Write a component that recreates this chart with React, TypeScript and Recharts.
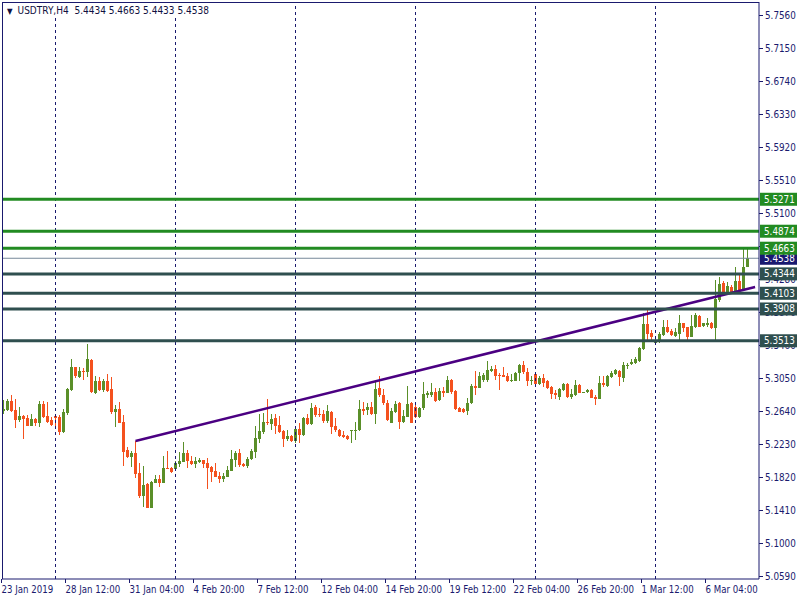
import { ComposedChart, Bar, XAxis, YAxis, ReferenceLine } from "recharts";

// USDTRY H4 candles (index 1 = 23 Jan 20:00)
const opens = [
  5.2644, 5.2653, 5.2764, 5.2653, 5.2528, 5.2578, 5.2549, 5.2458, 5.2541, 5.2495,
  5.2727, 5.2574, 5.2533, 5.2578, 5.2561, 5.2384, 5.2619, 5.2901, 5.3187, 5.3067,
  5.3141, 5.3120, 5.3274, 5.2868, 5.3013, 5.2901, 5.3013, 5.2909, 5.2632, 5.2665,
  5.2504, 5.2156, 5.2073, 5.2114, 5.1870, 5.1589, 5.1733, 5.1439, 5.1750, 5.1796,
  5.1750, 5.1936, 5.1936, 5.1916, 5.1982, 5.2011, 5.2123, 5.2023, 5.1986, 5.2003,
  5.2032, 5.1990, 5.1949, 5.1895, 5.1837, 5.1800, 5.1824, 5.1899, 5.2032, 5.2118,
  5.1982, 5.1957, 5.2040, 5.2135, 5.2297, 5.2384, 5.2504, 5.2479, 5.2558, 5.2467,
  5.2392, 5.2293, 5.2330, 5.2268, 5.2417, 5.2342, 5.2554, 5.2479, 5.2686, 5.2603,
  5.2603, 5.2516, 5.2632, 5.2454, 5.2405, 5.2342, 5.2330, 5.2392, 5.2396, 5.2405,
  5.2665, 5.2653, 5.2690, 5.2603, 5.2922, 5.2843, 5.2744, 5.2496, 5.2632, 5.2736,
  5.2504, 5.2570, 5.2736, 5.2694, 5.2570, 5.2674, 5.2839, 5.2839, 5.2881, 5.2777,
  5.2889, 5.2868, 5.3026, 5.2893, 5.2674, 5.2661, 5.2645, 5.2736, 5.2955, 5.2930,
  5.3026, 5.3026, 5.3137, 5.3162, 5.3088, 5.3088, 5.3079, 5.3013, 5.3017, 5.3108,
  5.3212, 5.3121, 5.3013, 5.3100, 5.2976, 5.3046, 5.3013, 5.2934, 5.2868, 5.2818,
  5.2901, 5.2976, 5.2814, 5.2843, 5.2963, 5.2872, 5.2876, 5.2901, 5.2814, 5.2789,
  5.2992, 5.2955, 5.3058, 5.3100, 5.3141, 5.3050, 5.3204, 5.3224, 5.3232, 5.3265,
  5.3410, 5.3721, 5.3605, 5.3489, 5.3501, 5.3584, 5.3687, 5.3638, 5.3576, 5.3596,
  5.3729, 5.3679, 5.3563, 5.3679, 5.3824, 5.3696, 5.3708, 5.3729, 5.3675, 5.4025,
  5.4230, 5.4120, 5.4184, 5.4112, 5.4259, 5.4151, 5.4434,
];
const highs = [
  5.2777, 5.2789, 5.2839, 5.2785, 5.2686, 5.2590, 5.2590, 5.2603, 5.2549, 5.2764,
  5.2764, 5.2756, 5.2561, 5.2599, 5.2586, 5.2661, 5.2930, 5.3286, 5.3187, 5.3183,
  5.3174, 5.3472, 5.3282, 5.3079, 5.3067, 5.3038, 5.3096, 5.3058, 5.2715, 5.2752,
  5.2590, 5.2197, 5.2143, 5.2268, 5.1990, 5.1957, 5.1742, 5.1771, 5.1845, 5.1845,
  5.2081, 5.2143, 5.1949, 5.2023, 5.2127, 5.2251, 5.2152, 5.2081, 5.2065, 5.2052,
  5.2032, 5.2061, 5.1957, 5.1998, 5.1887, 5.1866, 5.1961, 5.2156, 5.2143, 5.2172,
  5.1998, 5.2065, 5.2168, 5.2454, 5.2603, 5.2612, 5.2790, 5.2599, 5.2603, 5.2578,
  5.2405, 5.2405, 5.2342, 5.2429, 5.2487, 5.2570, 5.2603, 5.2744, 5.2711, 5.2674,
  5.2653, 5.2715, 5.2645, 5.2550, 5.2417, 5.2392, 5.2342, 5.2405, 5.2508, 5.2777,
  5.2752, 5.2744, 5.2752, 5.3005, 5.3075, 5.2910, 5.2777, 5.2674, 5.2769, 5.2757,
  5.2653, 5.2951, 5.2748, 5.2757, 5.2694, 5.2997, 5.2893, 5.2984, 5.2922, 5.2922,
  5.2943, 5.3079, 5.3038, 5.2901, 5.2694, 5.2674, 5.2798, 5.2976, 5.3142, 5.3129,
  5.3108, 5.3262, 5.3204, 5.3212, 5.3108, 5.3191, 5.3108, 5.3100, 5.3125, 5.3220,
  5.3261, 5.3170, 5.3075, 5.3108, 5.3079, 5.3096, 5.3025, 5.2951, 5.2901, 5.2922,
  5.2984, 5.2984, 5.2909, 5.3025, 5.2976, 5.2880, 5.2914, 5.2909, 5.2839, 5.3075,
  5.3075, 5.3087, 5.3141, 5.3162, 5.3150, 5.3245, 5.3241, 5.3282, 5.3306, 5.3439,
  5.3853, 5.3903, 5.3646, 5.3543, 5.3625, 5.3770, 5.3770, 5.3654, 5.3667, 5.3832,
  5.3737, 5.3687, 5.3832, 5.3853, 5.3832, 5.3737, 5.3791, 5.3750, 5.4268, 5.4300,
  5.4250, 5.4240, 5.4205, 5.4425, 5.4350, 5.4648, 5.4663,
];
const lows = [
  5.2603, 5.2640, 5.2632, 5.2425, 5.2508, 5.2297, 5.2454, 5.2454, 5.2454, 5.2446,
  5.2549, 5.2495, 5.2454, 5.2412, 5.2342, 5.2371, 5.2590, 5.2893, 5.3046, 5.3046,
  5.3025, 5.3067, 5.2860, 5.2855, 5.2893, 5.2880, 5.2880, 5.2603, 5.2437, 5.2487,
  5.1957, 5.2052, 5.1949, 5.1812, 5.1555, 5.1452, 5.1431, 5.1435, 5.1742, 5.1692,
  5.1742, 5.1916, 5.1874, 5.1907, 5.1949, 5.2003, 5.1928, 5.1970, 5.1936, 5.1990,
  5.1928, 5.1667, 5.1762, 5.1816, 5.1750, 5.1762, 5.1816, 5.1895, 5.1941, 5.1949,
  5.1941, 5.1936, 5.2032, 5.2061, 5.2239, 5.2355, 5.2467, 5.2405, 5.2355, 5.2371,
  5.2189, 5.2272, 5.2260, 5.2247, 5.2239, 5.2330, 5.2467, 5.2467, 5.2570, 5.2570,
  5.2496, 5.2487, 5.2355, 5.2384, 5.2322, 5.2309, 5.2280, 5.2239, 5.2280, 5.2396,
  5.2591, 5.2591, 5.2591, 5.2479, 5.2819, 5.2715, 5.2516, 5.2487, 5.2612, 5.2417,
  5.2487, 5.2562, 5.2487, 5.2558, 5.2558, 5.2653, 5.2798, 5.2819, 5.2757, 5.2765,
  5.2819, 5.2860, 5.2852, 5.2653, 5.2624, 5.2620, 5.2591, 5.2723, 5.2839, 5.2922,
  5.3005, 5.3005, 5.3129, 5.3026, 5.2901, 5.3059, 5.3005, 5.2996, 5.3009, 5.3017,
  5.3100, 5.2955, 5.2963, 5.2951, 5.2963, 5.2934, 5.2914, 5.2785, 5.2785, 5.2777,
  5.2893, 5.2806, 5.2785, 5.2831, 5.2860, 5.2868, 5.2868, 5.2798, 5.2715, 5.2785,
  5.2943, 5.2943, 5.3046, 5.3087, 5.2951, 5.3005, 5.3158, 5.3211, 5.3224, 5.3253,
  5.3398, 5.3501, 5.3501, 5.3480, 5.3489, 5.3571, 5.3605, 5.3571, 5.3563, 5.3514,
  5.3625, 5.3501, 5.3555, 5.3667, 5.3679, 5.3687, 5.3687, 5.3654, 5.3501, 5.4000,
  5.4105, 5.4105, 5.4095, 5.4102, 5.4122, 5.4143, 5.4433,
];
const closes = [
  5.2661, 5.2764, 5.2644, 5.2528, 5.2578, 5.2545, 5.2458, 5.2541, 5.2495, 5.2727,
  5.2570, 5.2508, 5.2470, 5.2557, 5.2384, 5.2628, 5.2913, 5.3187, 5.3075, 5.3137,
  5.3129, 5.3286, 5.2872, 5.3013, 5.2901, 5.3017, 5.2893, 5.2632, 5.2665, 5.2495,
  5.2135, 5.2065, 5.2114, 5.1858, 5.1584, 5.1721, 5.1439, 5.1758, 5.1796, 5.1750,
  5.1932, 5.1920, 5.1887, 5.1994, 5.2019, 5.2118, 5.2023, 5.1986, 5.2019, 5.2032,
  5.1986, 5.1936, 5.1887, 5.1824, 5.1800, 5.1833, 5.1907, 5.2044, 5.2118, 5.1974,
  5.1957, 5.2044, 5.2147, 5.2301, 5.2396, 5.2504, 5.2487, 5.2537, 5.2454, 5.2384,
  5.2293, 5.2330, 5.2268, 5.2417, 5.2342, 5.2554, 5.2479, 5.2678, 5.2591, 5.2591,
  5.2516, 5.2636, 5.2446, 5.2405, 5.2334, 5.2322, 5.2293, 5.2400, 5.2405, 5.2665,
  5.2645, 5.2690, 5.2603, 5.2914, 5.2835, 5.2736, 5.2529, 5.2645, 5.2723, 5.2504,
  5.2578, 5.2732, 5.2496, 5.2570, 5.2678, 5.2856, 5.2868, 5.2881, 5.2765, 5.2893,
  5.2868, 5.3026, 5.2881, 5.2665, 5.2632, 5.2632, 5.2736, 5.2955, 5.2930, 5.3079,
  5.3088, 5.3150, 5.3162, 5.3079, 5.3079, 5.3067, 5.3017, 5.3025, 5.3116, 5.3212,
  5.3121, 5.3017, 5.3021, 5.2976, 5.3046, 5.2992, 5.2930, 5.2847, 5.2839, 5.2914,
  5.2976, 5.2814, 5.2851, 5.2963, 5.2868, 5.2876, 5.2901, 5.2806, 5.2789, 5.2992,
  5.2959, 5.3075, 5.3116, 5.3150, 5.3058, 5.3212, 5.3212, 5.3253, 5.3282, 5.3418,
  5.3721, 5.3592, 5.3563, 5.3522, 5.3596, 5.3687, 5.3625, 5.3584, 5.3625, 5.3737,
  5.3667, 5.3563, 5.3696, 5.3832, 5.3687, 5.3729, 5.3729, 5.3667, 5.4032, 5.4222,
  5.4115, 5.4190, 5.4122, 5.4259, 5.4143, 5.4433, 5.4538,
];

// bar indices that carry a time label, and their labels
const timeTicks = [1, 17, 33, 49, 65, 81, 97, 113, 129, 145, 161, 177];
const timeLabels = [
  "23 Jan 2019", "28 Jan 12:00", "31 Jan 04:00", "4 Feb 20:00", "7 Feb 12:00", "12 Feb 04:00",
  "14 Feb 20:00", "19 Feb 12:00", "22 Feb 04:00", "26 Feb 20:00", "1 Mar 12:00", "6 Mar 04:00",
];
// weekly grid (Monday 00:00 bars)
const weekGrid = [14, 44, 74, 104, 134, 164];

const priceTicks = [
  5.059, 5.1, 5.141, 5.182, 5.223, 5.264, 5.305, 5.346, 5.387, 5.428,
  5.469, 5.51, 5.551, 5.592, 5.633, 5.674, 5.715, 5.756,
];
const resistanceLevels = [5.5271, 5.4874, 5.4663];
const supportLevels = [5.4344, 5.4103, 5.3908, 5.3513];
const bidPrice = 5.4538;
const trendStart = { x: 34, y: 5.2268 };
const trendEnd = { x: 188.9, y: 5.4181 };

const data = opens.map((o, i) => ({
  idx: i + 1,
  open: o,
  high: highs[i],
  low: lows[i],
  close: closes[i],
}));

const NAVY = "#1a1a6e";
const BULL = "#5a8f29";
const BEAR = "#f4511e";
const LEVEL_GREEN = "#228b22";
const LEVEL_SLATE = "#2f4f4f";
const FONT = "Tahoma, 'DejaVu Sans Condensed', 'Liberation Sans', sans-serif";

const Candle = (props: any) => {
  const { x, y, width, height, payload } = props;
  const { open, close, high, low } = payload;
  const top = Math.min(y, y + height);
  const h = Math.abs(height);
  const span = high - low;
  const k = span > 0 ? h / span : 0;
  const yo = top + (high - open) * k;
  const yc = top + (high - close) * k;
  const color = close >= open ? BULL : BEAR;
  const cx = Math.floor(x + width / 2);
  const bTop = Math.round(Math.min(yo, yc));
  const bBot = Math.round(Math.max(yo, yc));
  const wTop = Math.round(top);
  const wBot = Math.round(top + h);
  return (
    <g>
      <rect x={cx} y={wTop} width={1} height={Math.max(1, wBot - wTop)} fill={color} />
      <rect x={cx - 1} y={bTop} width={3} height={Math.max(1, bBot - bTop)} fill={color} />
    </g>
  );
};

const TimeTick = ({ x, y, payload }: any) => {
  const i = timeTicks.indexOf(payload.value);
  const px = Math.floor(x) - 1.5;
  return (
    <g>
      <line x1={px} x2={px} y1={y} y2={y + 4} stroke={NAVY} />
      <text x={px} y={y + 14} fontSize={9.6} fontFamily={FONT} fill={NAVY} textAnchor="start">
        {timeLabels[i]}
      </text>
    </g>
  );
};

// price scale label, drawn at the right end of an invisible reference line
const PriceTick = ({ viewBox, value }: any) => {
  const right = viewBox.x + viewBox.width;
  const yy = Math.round(viewBox.y) + 0.5;
  return (
    <g>
      <line x1={right} x2={right + 4} y1={yy} y2={yy} stroke={NAVY} />
      <text x={right + 6} y={yy + 3.5} fontSize={9.8} fontFamily={FONT} fill={NAVY}>
        {value.toFixed(4)}
      </text>
    </g>
  );
};

const LevelTag = ({ viewBox, fill, value }: any) => {
  const right = viewBox.x + viewBox.width;
  const yy = viewBox.y;
  return (
    <g>
      <rect x={right + 1} y={yy - 6.5} width={37} height={13} fill={fill} />
      <text x={right + 5} y={yy + 3.5} fontSize={9.8} fontFamily={FONT} fill="#ffffff">
        {value.toFixed(4)}
      </text>
    </g>
  );
};

export default function App() {
  return (
    <div style={{ position: "relative", width: 800, height: 600, background: "#fff" }}>
      <style>{`body{margin:0}`}</style>
      <ComposedChart
        width={800}
        height={600}
        data={data}
        margin={{ top: 2, right: 0, bottom: 0, left: 2 }}
      >
        <XAxis
          dataKey="idx"
          type="number"
          domain={[0.625, 189.875]}
          allowDataOverflow
          ticks={timeTicks}
          interval={0}
          height={21}
          tickSize={0}
          tickMargin={0}
          tickLine={false}
          axisLine={{ stroke: NAVY }}
          tick={<TimeTick />}
        />
        <YAxis
          orientation="right"
          type="number"
          domain={[5.0553, 5.7722]}
          allowDataOverflow
          ticks={priceTicks}
          width={41}
          tick={false}
          tickLine={false}
          axisLine={{ stroke: NAVY }}
        />
        {weekGrid.map((g) => (
          <ReferenceLine key={g} x={g} stroke={NAVY} strokeDasharray="3 3" />
        ))}
        {priceTicks.map((t) => (
          <ReferenceLine key={`t${t}`} y={t} stroke="none" label={<PriceTick value={t} />} />
        ))}
        <Bar
          dataKey={(d: any) => [d.low, d.high]}
          barSize={4}
          shape={<Candle />}
          isAnimationActive={false}
        />
        <ReferenceLine
          segment={[trendStart, trendEnd]}
          stroke="#4b0082"
          strokeWidth={2.5}
        />
        <ReferenceLine
          y={bidPrice}
          stroke="#778899"
          strokeWidth={1}
          label={<LevelTag fill="#191970" value={bidPrice} />}
        />
        {resistanceLevels.map((v) => (
          <ReferenceLine
            key={v}
            y={v}
            stroke={LEVEL_GREEN}
            strokeWidth={3}
            label={<LevelTag fill={LEVEL_GREEN} value={v} />}
          />
        ))}
        {supportLevels.map((v) => (
          <ReferenceLine
            key={v}
            y={v}
            stroke={LEVEL_SLATE}
            strokeWidth={3}
            label={<LevelTag fill={LEVEL_SLATE} value={v} />}
          />
        ))}
      </ComposedChart>
      <div
        style={{
          position: "absolute",
          left: 2,
          top: 2,
          width: 757,
          height: 577,
          borderLeft: `1px solid ${NAVY}`,
          borderTop: `1px solid ${NAVY}`,
          boxSizing: "border-box",
          pointerEvents: "none",
        }}
      />
      <div
        style={{
          position: "absolute",
          left: 5,
          top: 4,
          fontFamily: FONT,
          fontSize: 10,
          color: "#101040",
          background: "#fff",
          padding: "1px 2px",
          whiteSpace: "pre",
        }}
      >
        <span style={{ fontSize: 8, marginRight: 5 }}>▼</span>
        USDTRY,H4  5.4434 5.4663 5.4433 5.4538
      </div>
    </div>
  );
}
